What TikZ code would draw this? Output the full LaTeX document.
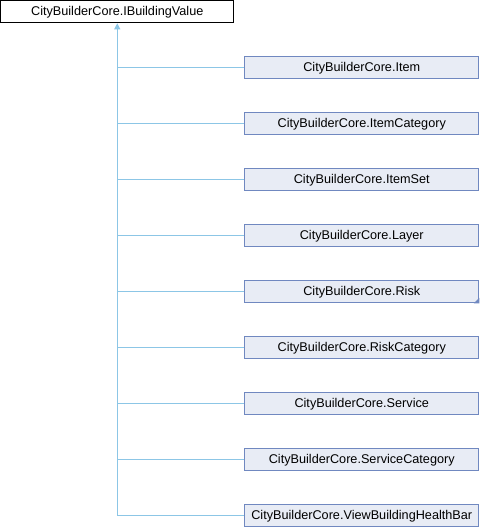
\documentclass[tikz,border=0pt]{standalone}
\usepackage{fontspec}
\setmainfont{Liberation Sans}
\usetikzlibrary{matrix,arrows.meta}
\definecolor{boxfill}{HTML}{E8ECF5}
\definecolor{boxline}{HTML}{7088C0}
\definecolor{linkline}{HTML}{8CC6E6}

\begin{document}
\begin{tikzpicture}[>={Triangle[length=4.5pt,width=4.5pt]},
    base/.style={draw=black,fill=white,minimum width=174.75pt,minimum height=16.5pt},
    derived/.style={draw=boxline,fill=boxfill,minimum width=175.5pt,minimum height=16.5pt},
    link/.style={draw=linkline,line width=0.75pt}]
    \useasboundingbox (0,0) rectangle (360pt,-396pt);
    \matrix (tree) [%
      matrix of nodes,
      anchor=north west,
      inner sep=0pt,
      column sep=7.5pt,
      row sep=24.75pt,
      nodes={inner sep=0pt,line width=0.75pt,font=\fontsize{9.5pt}{11pt}\selectfont},
    ] at (0,0)
    {
      |[base]| CityBuilderCore.IBuildingValue & \\
      & |[derived]| CityBuilderCore.Item \\
      & |[derived]| CityBuilderCore.ItemCategory \\
      & |[derived]| CityBuilderCore.ItemSet \\
      & |[derived]| CityBuilderCore.Layer \\
      & |[derived]| CityBuilderCore.Risk \\
      & |[derived]| CityBuilderCore.RiskCategory \\
      & |[derived]| CityBuilderCore.Service \\
      & |[derived]| CityBuilderCore.ServiceCategory \\
      & |[derived]| CityBuilderCore.ViewBuildingHealthBar \\
    };
    \fill[boxline] (tree-6-2.south east) -- ++(-4pt,0) -- ++(4pt,4pt) -- cycle;
    \draw[link,<-] (tree-1-1.south) |- (tree-10-2.west);
    \draw[link] (tree-2-2.west) -- (tree-2-2.west -| tree-1-1.south);
    \draw[link] (tree-3-2.west) -- (tree-3-2.west -| tree-1-1.south);
    \draw[link] (tree-4-2.west) -- (tree-4-2.west -| tree-1-1.south);
    \draw[link] (tree-5-2.west) -- (tree-5-2.west -| tree-1-1.south);
    \draw[link] (tree-6-2.west) -- (tree-6-2.west -| tree-1-1.south);
    \draw[link] (tree-7-2.west) -- (tree-7-2.west -| tree-1-1.south);
    \draw[link] (tree-8-2.west) -- (tree-8-2.west -| tree-1-1.south);
    \draw[link] (tree-9-2.west) -- (tree-9-2.west -| tree-1-1.south);
\end{tikzpicture}
\end{document}
